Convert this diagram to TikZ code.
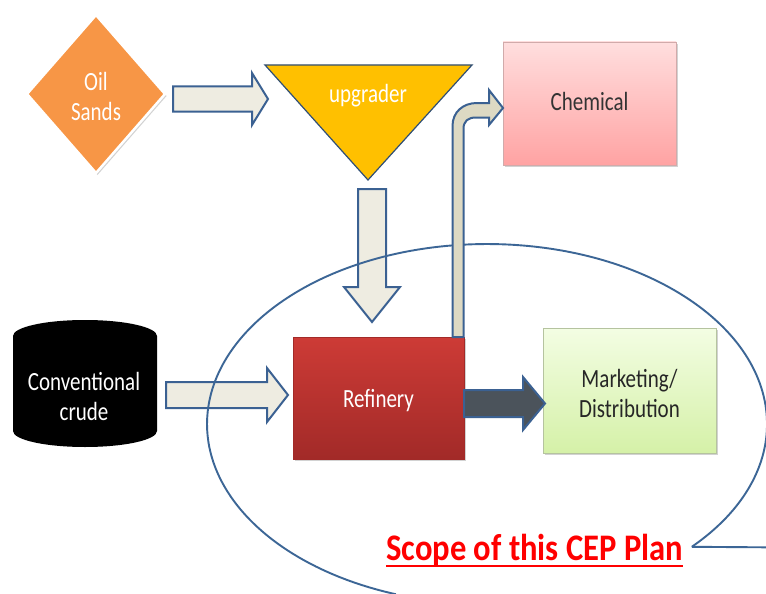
\documentclass[tikz,border=0pt]{standalone}
\usepackage{fontspec}
\setmainfont{Carlito}
\usetikzlibrary{shadows}
\definecolor{arrowfill}{HTML}{EEECE1}
\definecolor{bentfill}{HTML}{DDD9C3}
\definecolor{arrowline}{HTML}{3B6192}
\definecolor{darkarrow}{HTML}{4B535B}
\definecolor{oilorange}{HTML}{F79646}
\definecolor{amber}{HTML}{FFC000}
\definecolor{ellline}{HTML}{3C6696}
\definecolor{chemtop}{HTML}{FFDEDE}
\definecolor{chembot}{HTML}{FFA3A3}
\definecolor{reftop}{HTML}{CD3B36}
\definecolor{refbot}{HTML}{A22A28}
\definecolor{mkttop}{HTML}{F3FDE3}
\definecolor{mktbot}{HTML}{D5F1A8}
\definecolor{scopered}{HTML}{FF0000}
\newcommand{\vtext}[1]{\scalebox{1}[1.25]{\begin{tabular}{@{}c@{}}#1\end{tabular}}}
\begin{document}
\begin{tikzpicture}[x=1pt,y=-1pt,
  blockarrow/.style={draw=arrowline, line width=2pt, fill=arrowfill, line join=miter},
  txt/.style={font=\fontsize{21}{24}\selectfont, inner sep=0pt, align=center},
  softshadow/.style={drop shadow={shadow xshift=1.5pt, shadow yshift=-2pt, opacity=.35, fill=black!50}},
  procbox/.style={softshadow, line width=0.6pt, inner sep=0pt}
]
\clip (0,0) rectangle (766,594);
\fill[white] (0,0) rectangle (766,594);

% Oil sands diamond
\coordinate (oil) at (96,94);
\path[fill=oilorange, draw=white, line width=2.5pt, softshadow]
  (96,15) -- (165,94) -- (96,173) -- (27,94) -- cycle;
\node[txt, text=white] (oiltext) at (96,99) {\vtext{Oil\\Sands}};

% upgrader triangle
\path[fill=amber, draw=arrowline!80!black, line width=1.2pt, line join=miter]
  (265,65) -- (472,65) -- (368,180) -- cycle;
\node[txt, text=white] (upg) at (368,97) {\vtext{upgrader}};
\coordinate (upgtip) at (368,180);

% boxes
\node[procbox, minimum width=173pt, minimum height=123pt,
      top color=chemtop, bottom color=chembot, draw=chembot!70!black!60] (chem) at (589.5,103.5) {};
\node[txt, text=black!80] (chemtext) at (589.5,105) {\vtext{Chemical}};
\node[procbox, minimum width=171pt, minimum height=122pt,
      top color=reftop, bottom color=refbot, draw=refbot] (ref) at (378.5,398) {};
\node[txt, text=white] (reftext) at (378.5,401) {\vtext{Refinery}};
\node[procbox, minimum width=173pt, minimum height=125pt,
      top color=mkttop, bottom color=mktbot, draw=mktbot!70!black!70] (mkt) at (629.5,390.5) {};
\node[txt, text=black!85] (mkttext) at (629.5,396) {\vtext{Marketing/\\Distribution}};

% conventional crude cylinder
\path[fill=black]
  (13,336) -- (13,431) arc[start angle=180, end angle=0, x radius=72, y radius=16]
  -- (157,336) arc[start angle=0, end angle=-180, x radius=72, y radius=16] -- cycle;
\node[txt, text=white] (crude) at (84,399) {\vtext{Conventional\\crude}};

% arrow oil sands -> upgrader
\path[blockarrow] (173,86.5) -- (252,86.5) -- (252,73) -- (268,99) -- (252,125)
  -- (252,111.5) -- (173,111.5) -- cycle;

% arrow upgrader -> refinery
\path[blockarrow] (358,189) -- (386,189) -- (386,287) -- (400,287) -- (372,322)
  -- (344,287) -- (358,287) -- cycle;

% arrow crude -> refinery
\path[blockarrow] (166,382) -- (267,382) -- (267,368) -- (288,395) -- (267,422)
  -- (267,408) -- (166,408) -- cycle;

% scope ellipse callout
\draw[ellline, line width=1.9pt]
  (691.8,546.8) arc[start angle=43, end angle=-251, x radius=280, y radius=180];
\draw[ellline, line width=1.9pt] (691.8,546.8) -- (790,547.5);

% bent arrow refinery -> chemical
\path[blockarrow, fill=bentfill]
  (452.5,337) -- (452.5,126) .. controls (452.5,112) and (463,103) .. (477,103)
  -- (489,103) -- (489,90) -- (503,108) -- (489,125) -- (489,117.5) -- (476,117.5)
  .. controls (468,117.5) and (463.5,121) .. (463.5,129) -- (463.5,337) -- cycle;

% dark arrow refinery -> marketing
\path[blockarrow, fill=darkarrow] (464,390) -- (523,390) -- (523,377) -- (545,403.5)
  -- (523,430) -- (523,417) -- (464,417) -- cycle;

% scope text
\node[inner sep=0pt, anchor=base west, text=scopered,
      font=\fontsize{32.6}{36}\selectfont\bfseries] (scope) at (386,560)
  {\scalebox{1}[1.15]{Scope of this CEP Plan}};
\draw[scopered, line width=2.4pt] ([yshift=-6pt]scope.base west) -- ([yshift=-6pt]scope.base east);
\end{tikzpicture}
\end{document}
